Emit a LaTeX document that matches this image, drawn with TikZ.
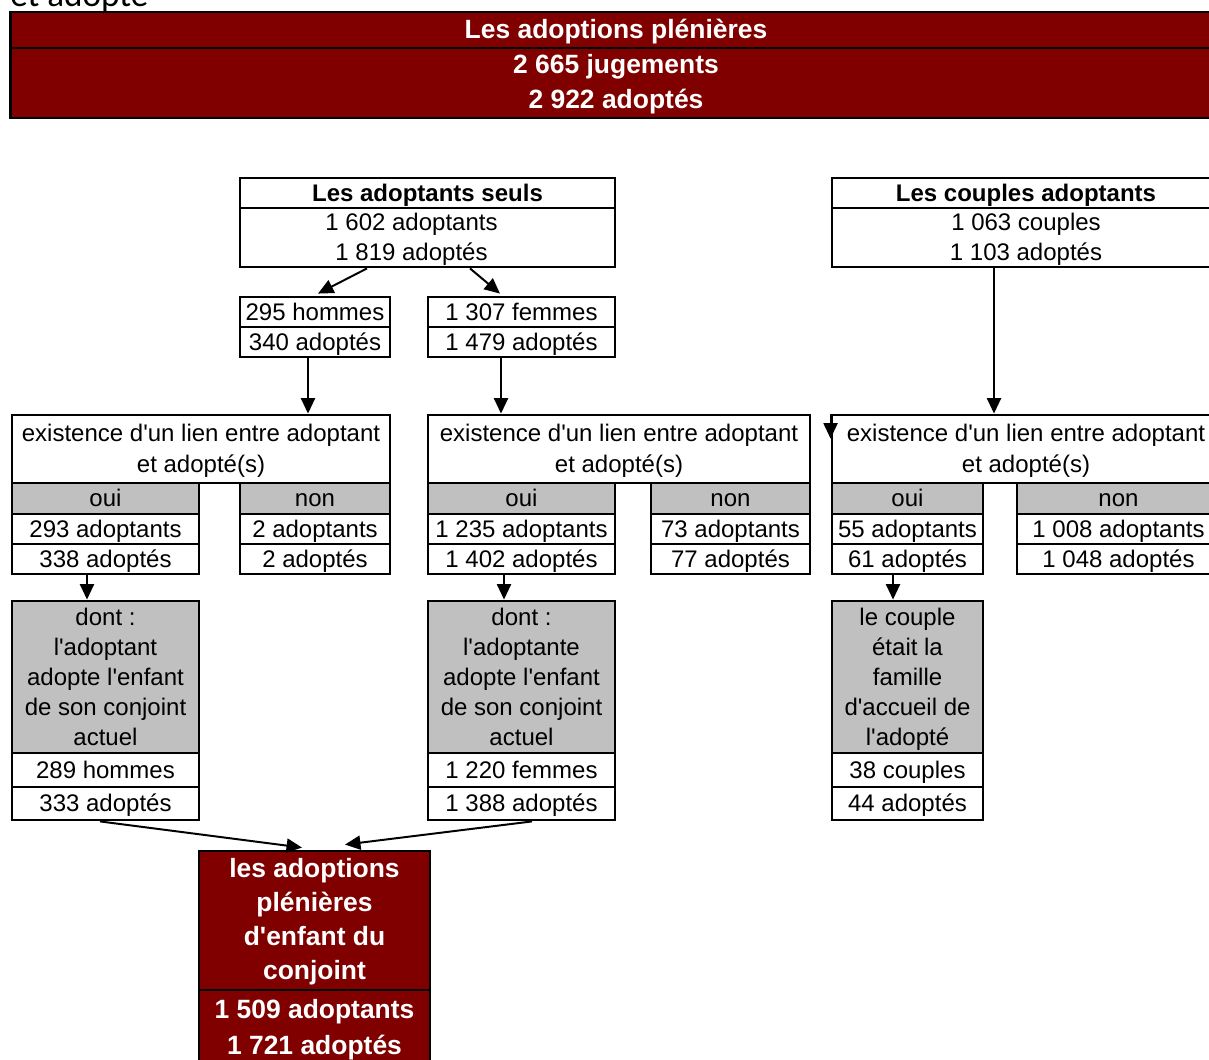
\documentclass[tikz,border=0pt]{standalone}
\usepackage{fontspec}
\setmainfont{Liberation Sans}[Ligatures=TeXOff]
\newfontfamily\topfont{Carlito}
\usetikzlibrary{arrows.meta,calc}
\definecolor{dred}{HTML}{800000}
\definecolor{cgray}{HTML}{C0C0C0}
\newcommand\fsreg{\fontsize{17.07}{21.3}\selectfont}
\newcommand\fsbig{\bfseries\fontsize{18.8}{24.9}\selectfont}
\newcommand\sr{\rule[-4pt]{0pt}{20pt}}
\newcommand\fl{\rule{0pt}{16pt}}
\newcommand\lastl{\rule[-4pt]{0pt}{4pt}}
\begin{document}
\begin{tikzpicture}[x=0.025cm,y=-0.025cm,
  cell/.style={draw, line width=2pt, inner sep=0pt, align=center, font=\fsreg},
  hdr/.style={cell, fill=cgray},
  redbox/.style={cell, fill=dred, text=white, font=\fsbig},
  arr/.style={line width=1.4pt, -{Triangle[length=11pt,width=10pt]}}]
\clip (0,0) rectangle (1209,1059);

% cut-off text at the top
\node[anchor=base west, inner sep=0pt, font=\topfont\fontsize{25}{30}\selectfont] (toptxt) at (10,6) {et adopté};

% banner
\node[redbox, minimum width=30.25cm, minimum height=0.9cm] (banT) at (616,30) {\sr Les adoptions plénières};
\node[redbox, minimum width=30.25cm, minimum height=1.75cm] (banB) at (616,83) {\fl 2 665 jugements\\2 922 adoptés\lastl};

% adoptants seuls
\node[cell, font=\bfseries\fsreg, minimum width=9.375cm, minimum height=0.75cm] (seulsT) at (427.5,193) {\sr Les adoptants seuls};
\node[cell, minimum width=9.375cm, minimum height=1.475cm] (seulsB) at (427.5,237.5) {\fl\hspace*{-0.8cm}1 602 adoptants\\\hspace*{-0.8cm}1 819 adoptés\lastl};

% couples
\node[cell, font=\bfseries\fsreg, minimum width=9.7cm, minimum height=0.75cm] (coupT) at (1026,193) {\sr Les couples adoptants};
\node[cell, minimum width=9.7cm, minimum height=1.475cm] (coupB) at (1026,237.5) {\fl 1 063 couples\\1 103 adoptés\lastl};

% hommes / femmes
\node[cell, minimum width=3.75cm, minimum height=0.75cm] (homA) at (315,312) {\sr 295 hommes};
\node[cell, minimum width=3.75cm, minimum height=0.75cm] (homB) at (315,342) {\sr 340 adoptés};
\node[cell, minimum width=4.675cm, minimum height=0.75cm] (femA) at (521.5,312) {\sr 1 307 femmes};
\node[cell, minimum width=4.675cm, minimum height=0.75cm] (femB) at (521.5,342) {\sr 1 479 adoptés};

% lien boxes - left
\node[cell, font=\fontsize{17.07}{22}\selectfont, minimum width=9.45cm, minimum height=1.7cm] (lienLT) at (201,449) {\fl existence d'un lien entre adoptant\\et adopté(s)\lastl};
\node[hdr, minimum width=4.675cm, minimum height=0.775cm] (ouiL) at (105.5,498.5) {\sr oui};
\node[cell, minimum width=4.675cm, minimum height=0.75cm] (ouiLa) at (105.5,529) {\sr 293 adoptants};
\node[cell, minimum width=4.675cm, minimum height=0.75cm] (ouiLb) at (105.5,559) {\sr 338 adoptés};
\node[hdr, minimum width=3.75cm, minimum height=0.775cm] (nonL) at (315,498.5) {\sr non};
\node[cell, minimum width=3.75cm, minimum height=0.75cm] (nonLa) at (315,529) {\sr 2 adoptants};
\node[cell, minimum width=3.75cm, minimum height=0.75cm] (nonLb) at (315,559) {\sr 2 adoptés};

% lien boxes - middle
\node[cell, font=\fontsize{17.07}{22}\selectfont, minimum width=9.55cm, minimum height=1.7cm] (lienMT) at (619,449) {\fl existence d'un lien entre adoptant\\et adopté(s)\lastl};
\node[hdr, minimum width=4.675cm, minimum height=0.775cm] (ouiM) at (521.5,498.5) {\sr oui};
\node[cell, minimum width=4.675cm, minimum height=0.75cm] (ouiMa) at (521.5,529) {\sr 1 235 adoptants};
\node[cell, minimum width=4.675cm, minimum height=0.75cm] (ouiMb) at (521.5,559) {\sr 1 402 adoptés};
\node[hdr, minimum width=3.975cm, minimum height=0.775cm] (nonM) at (730.5,498.5) {\sr non};
\node[cell, minimum width=3.975cm, minimum height=0.75cm] (nonMa) at (730.5,529) {\sr 73 adoptants};
\node[cell, minimum width=3.975cm, minimum height=0.75cm] (nonMb) at (730.5,559) {\sr 77 adoptés};

% lien boxes - right
\node[cell, font=\fontsize{17.07}{22}\selectfont, minimum width=9.7cm, minimum height=1.7cm] (lienRT) at (1026,449) {\fl existence d'un lien entre adoptant\\et adopté(s)\lastl};
\node[hdr, minimum width=3.775cm, minimum height=0.775cm] (ouiR) at (907.5,498.5) {\sr oui};
\node[cell, minimum width=3.775cm, minimum height=0.75cm] (ouiRa) at (907.5,529) {\sr 55 adoptants};
\node[cell, minimum width=3.775cm, minimum height=0.75cm] (ouiRb) at (907.5,559) {\sr 61 adoptés};
\node[hdr, minimum width=5.075cm, minimum height=0.775cm] (nonR) at (1118.5,498.5) {\sr non};
\node[cell, minimum width=5.075cm, minimum height=0.75cm] (nonRa) at (1118.5,529) {\sr 1 008 adoptants};
\node[cell, minimum width=5.075cm, minimum height=0.75cm] (nonRb) at (1118.5,559) {\sr 1 048 adoptés};

% dont boxes
\node[hdr, minimum width=4.675cm, minimum height=3.8cm] (dontL) at (105.5,677) {\fl dont :\\l'adoptant\\adopte l'enfant\\de son conjoint\\actuel\lastl};
\node[cell, minimum width=4.675cm, minimum height=0.85cm] (dontLa) at (105.5,770) {\sr 289 hommes};
\node[cell, minimum width=4.675cm, minimum height=0.825cm] (dontLb) at (105.5,803.5) {\sr 333 adoptés};

\node[hdr, minimum width=4.675cm, minimum height=3.8cm] (dontM) at (521.5,677) {\fl dont :\\l'adoptante\\adopte l'enfant\\de son conjoint\\actuel\lastl};
\node[cell, minimum width=4.675cm, minimum height=0.85cm] (dontMa) at (521.5,770) {\sr 1 220 femmes};
\node[cell, minimum width=4.675cm, minimum height=0.825cm] (dontMb) at (521.5,803.5) {\sr 1 388 adoptés};

\node[hdr, minimum width=3.775cm, minimum height=3.8cm] (dontR) at (907.5,677) {\fl le couple\\était la\\famille\\d'accueil de\\l'adopté\lastl};
\node[cell, minimum width=3.775cm, minimum height=0.85cm] (dontRa) at (907.5,770) {\sr 38 couples};
\node[cell, minimum width=3.775cm, minimum height=0.825cm] (dontRb) at (907.5,803.5) {\sr 44 adoptés};

% final box
\node[redbox, font=\bfseries\fontsize{18.8}{24.2}\selectfont, minimum width=5.775cm, minimum height=3.475cm] (fin) at (314.5,920.5) {\fl les adoptions\\plénières\\d'enfant du\\conjoint\lastl};
\node[redbox, font=\bfseries\fontsize{18.8}{25.6}\selectfont, minimum width=5.775cm, minimum height=1.9cm] (finB) at (314.5,1028) {\fl 1 509 adoptants\\1 721 adoptés\lastl};

% connectors
\draw[arr] ($(seulsB.south)+(-60.5,0)$) -- ($(homA.north)+(3,-2)$);
\draw[arr] ($(seulsB.south)+(42.5,0)$) -- ($(femA.north)+(-21.5,-2)$);

\coordinate (h1) at ($(homB.south)+(-7,0)$);
\draw[arr] (h1) -- (h1 |- lienLT.north);
\coordinate (f1) at ($(femB.south)+(-20.5,0)$);
\draw[arr] (f1) -- (f1 |- lienMT.north);
\coordinate (c1) at ($(coupB.south)+(-32,0)$);
\draw[arr] (c1) -- (c1 |- lienRT.north);
\draw[arr] (lienRT.north west) -- ++(0,25);

\coordinate (o1) at ($(ouiLb.south)+(-18.5,0)$);
\draw[arr] (o1) -- (o1 |- dontL.north);
\coordinate (o2) at ($(ouiMb.south)+(-17.5,0)$);
\draw[arr] (o2) -- (o2 |- dontM.north);
\coordinate (o3) at ($(ouiRb.south)+(-14.5,0)$);
\draw[arr] (o3) -- (o3 |- dontR.north);

\draw[arr] ($(dontLb.south)+(-5.5,0)$) -- ($(fin.north)+(-12.5,-2)$);
\draw[arr] ($(dontMb.south)+(10.5,0)$) -- ($(fin.north)+(30.5,-5)$);
\end{tikzpicture}
\end{document}
